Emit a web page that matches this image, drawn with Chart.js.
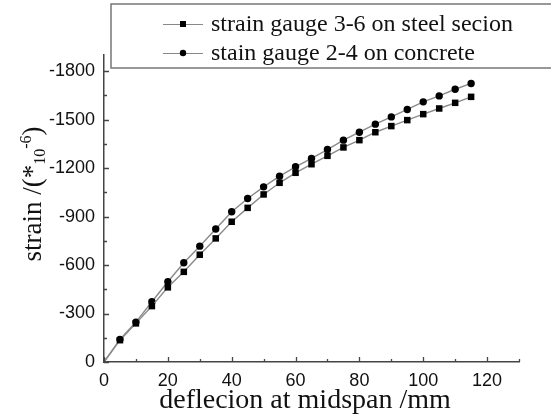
<!DOCTYPE html>
<html>
<head>
<meta charset="utf-8">
<script src="https://cdn.jsdelivr.net/npm/chart.js@4/dist/chart.umd.min.js"></script>
<style>
  html, body { margin: 0; padding: 0; background: #fff; }
  #wrap { width: 551px; height: 419px; }
</style>
</head>
<body>
<div id="wrap"><canvas id="strainChart" width="551" height="419"></canvas></div>
<script>
// deflection at midspan (mm)
const deflection = [0, 5, 10, 15, 20, 25, 30, 35, 40, 45, 50, 55, 60, 65, 70, 75, 80, 85, 90, 95, 100, 105, 110, 115];
// strain gauge 3-6 on steel section
const steelStrain = [0, -135, -239, -346, -462, -558, -664, -765, -868, -954, -1037, -1109, -1171, -1224, -1276, -1328, -1373, -1422, -1460, -1497, -1534, -1569, -1604, -1641];
// strain gauge 2-4 on concrete
const concreteStrain = [0, -140, -247, -373, -497, -614, -717, -823, -930, -1012, -1084, -1150, -1208, -1260, -1315, -1373, -1422, -1472, -1517, -1563, -1610, -1647, -1688, -1724];

const legendLabels = ['strain gauge 3-6 on steel secion', 'stain gauge 2-4 on concrete'];
const xTitle = 'deflecion at midspan /mm';

const serif = '"Liberation Serif", "Times New Roman", serif';
const sans = '"Liberation Sans", Arial, sans-serif';

function toPoints(ys) {
  return deflection.map((x, i) => ({ x: x, y: ys[i] }));
}
const radii = (r) => deflection.map((x) => (x === 0 ? 0 : r));

// inward tick marks, titles and the legend box
const decorations = {
  id: 'decorations',
  afterDraw(chart) {
    const ctx = chart.ctx;
    const xs = chart.scales.x;
    const ys = chart.scales.y;
    const area = chart.chartArea;
    ctx.save();
    ctx.strokeStyle = '#444';
    ctx.lineWidth = 1.3;
    ctx.beginPath();
    for (let v = 0; v <= 130; v += 10) {
      const px = Math.round(xs.getPixelForValue(v)) + 0.5;
      const len = v % 20 === 0 ? 5 : 3;
      ctx.moveTo(px, area.bottom);
      ctx.lineTo(px, area.bottom - len);
    }
    for (let v = 0; v >= -1800; v -= 150) {
      const py = Math.round(ys.getPixelForValue(v)) + 0.5;
      const len = v % 300 === 0 ? 5 : 3;
      ctx.moveTo(area.left, py);
      ctx.lineTo(area.left + len, py);
    }
    ctx.stroke();

    // x title
    ctx.fillStyle = '#111';
    ctx.font = '28px ' + serif;
    ctx.textAlign = 'center';
    ctx.textBaseline = 'middle';
    ctx.fillText(xTitle, 305, 401);

    // y title with sub/superscript
    ctx.translate(33, 194);
    ctx.rotate(-Math.PI / 2);
    const parts = [
      { t: 'strain /(*', size: 27, dy: 0 },
      { t: '10', size: 16, dy: 4 },
      { t: '-6', size: 16, dy: -10 },
      { t: ')', size: 27, dy: 0 }
    ];
    let total = 0;
    parts.forEach((p) => { ctx.font = p.size + 'px ' + serif; p.w = ctx.measureText(p.t).width; total += p.w; });
    let cx = -total / 2;
    ctx.textAlign = 'left';
    ctx.textBaseline = 'alphabetic';
    parts.forEach((p) => {
      ctx.font = p.size + 'px ' + serif;
      ctx.fillText(p.t, cx, 8 + p.dy);
      cx += p.w;
    });
    ctx.restore();

    // legend box
    ctx.save();
    ctx.fillStyle = '#fff';
    ctx.fillRect(111, 4, 450, 64);
    ctx.strokeStyle = '#777';
    ctx.lineWidth = 1.5;
    ctx.strokeRect(111, 4, 450, 64);
    chart.data.datasets.forEach((ds, i) => {
      const y = 24 + i * 29;
      ctx.strokeStyle = '#888';
      ctx.lineWidth = 1.2;
      ctx.beginPath();
      ctx.moveTo(163, y + 0.5);
      ctx.lineTo(203, y + 0.5);
      ctx.stroke();
      ctx.fillStyle = '#000';
      if (ds.pointStyle === 'rect') {
        ctx.fillRect(180, y - 3, 6, 6);
      } else {
        ctx.beginPath();
        ctx.arc(183, y, 3.2, 0, Math.PI * 2);
        ctx.fill();
      }
      ctx.fillStyle = '#111';
      ctx.font = '24px ' + serif;
      ctx.textAlign = 'left';
      ctx.textBaseline = 'middle';
      ctx.fillText(legendLabels[i], 211, y + 1);
    });
    ctx.restore();
  }
};

new Chart(document.getElementById('strainChart'), {
  type: 'line',
  data: {
    datasets: [
      {
        label: legendLabels[0],
        data: toPoints(steelStrain),
        borderColor: '#8a8a8a',
        borderWidth: 1.4,
        pointStyle: 'rect',
        pointRadius: radii(4.6),
        pointBackgroundColor: '#000',
        pointBorderColor: '#000',
        pointBorderWidth: 0,
        fill: false,
        tension: 0
      },
      {
        label: legendLabels[1],
        data: toPoints(concreteStrain),
        borderColor: '#8a8a8a',
        borderWidth: 1.4,
        pointStyle: 'circle',
        pointRadius: radii(3.7),
        pointBackgroundColor: '#000',
        pointBorderColor: '#000',
        pointBorderWidth: 0,
        fill: false,
        tension: 0
      }
    ]
  },
  options: {
    responsive: false,
    animation: false,
    layout: { padding: { top: 55, right: 32, left: 0, bottom: 0 } },
    plugins: {
      legend: { display: false },
      tooltip: { enabled: false }
    },
    scales: {
      x: {
        type: 'linear',
        min: 0,
        max: 130,
        grid: { display: false },
        border: { display: true, color: '#444', width: 1.5 },
        ticks: {
          stepSize: 20,
          includeBounds: false,
          maxRotation: 0,
          padding: 0,
          color: '#111',
          font: { family: sans, size: 18 },
          callback: (v) => String(v)
        },
        afterFit(scale) { scale.height = 57; }
      },
      y: {
        type: 'linear',
        reverse: true,
        min: -1900,
        max: 0,
        grid: { display: false },
        border: { display: true, color: '#444', width: 1.5 },
        ticks: {
          stepSize: 300,
          includeBounds: false,
          padding: 1,
          color: '#111',
          font: { family: sans, size: 18 },
          callback: (v) => String(v)
        },
        afterFit(scale) { scale.width = 104; }
      }
    }
  },
  plugins: [decorations]
});
</script>
</body>
</html>
